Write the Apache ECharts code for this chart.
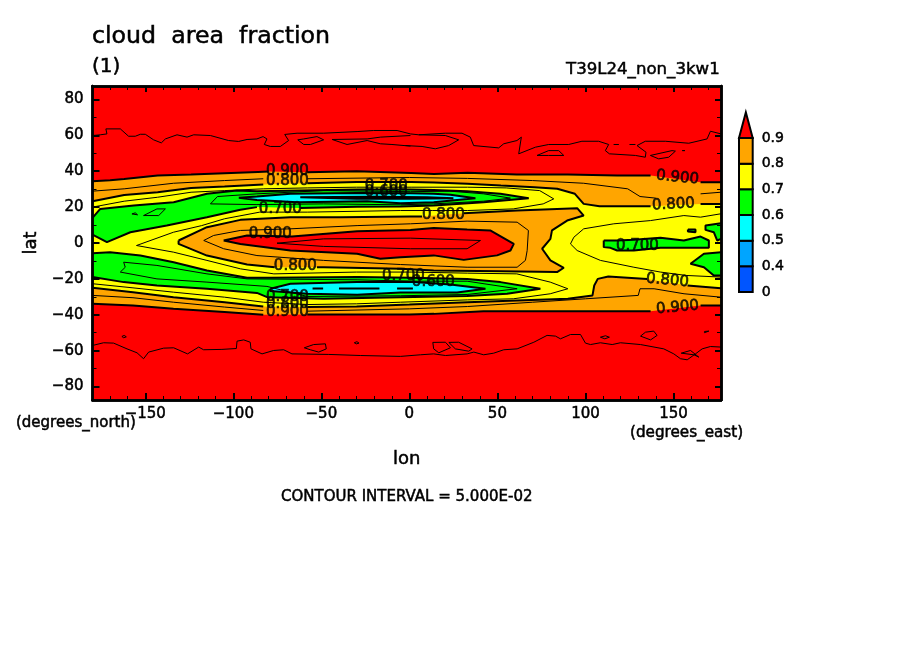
<!DOCTYPE html>
<html><head><meta charset="utf-8">
<style>html,body{margin:0;padding:0;background:#fff}#c{width:904px;height:654px}</style>
<script src="https://cdn.jsdelivr.net/npm/echarts@6/dist/echarts.min.js"></script>
</head><body><div id="c"></div>
<script>
// Plot domain, filled with the top colour band
const plotDomain=[[-180,-87.5],[177,-87.5],[177,87.5],[-180,87.5]];
// Contour lines as [lon, lat]; null = gap under a contour label.
const c90n=[[-180,34.4],[-170,35],[-162,35.7],[-143,37.6],[-124,38.2],[-105,38.9],[-86,39.6],[-80,39.8],null,[-58,39.5],[-30,40],[1,39],[14,38.5],[33,39.1],[61,38.2],[90,38.2],[118,37.6],[137,37.6],null,[165.4,33.9],[177,33.9]];
const c90s=[[-180,-33.9],[-157,-34.8],[-134,-36.7],[-105,-38.5],[-83,-40],null,[-58,-39.8],[-39,-39.8],[0,-39.8],[14,-39.5],[42,-38],[70,-38],[108,-38],[137,-38],null,[165.4,-34.8],[177,-34.8]];
const c85n=[[-180,28.9],[-162,30.2],[-134,33.3],[-105,34.8],[-83,35.8],null,[-58,35.8],[0,36.5],[33,36],[70,34.8],[99,33.3],[124,30.2],[131,25.9],[140,25],null,[165.4,27.4],[177,28.3]];
const c85s=[[-180,-29.2],[-157,-30.5],[-134,-33],[-105,-35.7],[-83,-37.6],null,[-58,-38],[0,-36.7],[33,-35.4],[70,-33],[100,-31.1],[130,-29.2],[131,-25.5],[139,-25.5],[156,-28.3],[177,-30.2]];
const c80n=[[-180,23.3],[-162,26.8],[-143,28.3],[-124,30.7],[-105,31.5],[-83,32.6],null,[-58,33.3],[-30,34],[1,34],[14,33.7],[33,33],[52,32],[71,31.1],[84,30.2],[94,27.4],[99,21.8],[108,20.5],[137,20.5],null,[165.4,21.8],[177,21.8]];
const c80s=[[-180,-25],[-157,-27.4],[-134,-30.2],[-105,-33],[-83,-35.4],null,[-58,-35.7],[-30,-35.4],[0,-34.3],[33,-33],[61,-32],[90,-31.1],[104,-29.2],[105,-23.7],[107,-20],[113,-18.7],[135,-20],null,[158,-23.7],[177,-25.2]];
const c75arc=[[-180,20],[-162,23.3],[-143,25.5],[-124,28.3],[-105,29.2],[-83,30.2],[-58,30.7],[-30,31.1],[1,31.1],[33,31.1],[55,30.7],[74,29.2],[82,24.6],[76,21.8],[59,19],[33,18.1],[13,18.1],[-5,18.1],[-58,17.2],[-85,17.2],[-105,13.5],[-118,9.7],[-134,6],[-155,-1.4],[-134,-5.1],[-115,-9.7],[-96,-14.4],[-77,-17.2],[-30,-16.2],[1,-16.2],[33,-16.8],[61,-17.2],[80,-21.8],[90,-25.5],[80,-28.3],[59,-31.1],[33,-31.7],[-5,-33],[-30,-33.9],[-58,-34.3],[-83,-33],[-105,-30.2],[-134,-27.4],[-157,-25],[-180,-22.7]];
const c75east=[[177,16.3],[165.4,14.4],[155.9,15.3],[137,12.5],[116.1,10.7],[99,7.9],[93.4,3.2],[91.5,-0.5],[95.3,-4.2],[108.5,-9.7],[127.5,-13.5],[142.6,-16.2],[157.4,-18.1],[177,-19]];
const c70n=[[-180,14],[-175.6,19],[-156.6,20.9],[-133.9,22.7],[-115,27.4],[-98,29.2],[-86.6,28.9],[-29.7,29.8],[0.6,29.8],[13.8,29.6],[32.8,28.9],[51.7,27.4],[67.8,25],[42.2,22.7],[13.8,20.9],[-5,20.3],[-29.7,20.2],[-62,19.5],null,[-86.6,20],[-96,18.5],[-115,14.4],[-137.8,9.7],[-158.5,6],[-171.8,0.5],[-180,4.7]];
const c70s=[[-180,-5.7],[-170,-5.1],[-152.8,-7],[-133.9,-10.7],[-115,-15.3],[-92.2,-19.4],[-79,-19.4],[-29.7,-19],[0.6,-19.4],[32.8,-20],[51.7,-21.8],[74.4,-25.5],[55.5,-28.3],[32.8,-29.6],[-5,-30.2],[-48.7,-31.1],[-80.8,-30.2],[-86.6,-27.8],[-115,-25.5],[-143.4,-23.7],[-162.3,-21.8],[-180,-19]];
const c70mid=[[110.4,1.4],[118,1.4],[127.5,1.8],[142.6,2.9],[155.9,1.4],[165.4,3.6],[170.1,1.4],[170.1,-2.7],[155.9,-2.7],[142.6,-2.7],[127.5,-4.2],[118,-4.2],[114.2,-2.7],[110.4,-2.3],[110.4,1.4]];
const c70dot=[[158.2,7.5],[162.5,7.5],[162.5,6],[158.2,6.4],[158.2,7.5]];
const c70ne=[[177,11],[168.2,9.7],[168.2,7.3],[172.9,6],[174.8,1.4],[177,2.3]];
const c70se=[[177,-5.1],[167.3,-6],[159.7,-11.6],[167.3,-13.5],[172.9,-18.1],[177,-18.1]];
const c65n=[[-113,21.8],[-109,25.9],[-86.6,27.4],[-48.7,29.2],[0.6,28.6],[23,28.9],[42.2,27.4],[57.4,25],[42.2,23.3],[13.8,21.8],[-5,21.3],[-48.7,21.8],[-86.6,21.4],[-113,21.8]];
const c65s=[[-164.2,-16.2],[-161.4,-13.5],[-162.3,-10.7],[-143.4,-12.5],[-115,-17.2],[-92.2,-20],[-29.7,-20.5],[0.6,-21.3],[32.8,-21.3],[61.2,-25.5],[32.8,-28.7],[-5,-29.4],[-58,-29.8],[-80.9,-24.2],[-115,-21.8],[-143.4,-20],[-164.2,-16.2]];
const c65dotA=[[-157.6,16.2],[-155.7,16.8],[-154.4,15.7],[-157.6,16.2]];
const c65dotB=[[-151,15.3],[-143.4,19],[-138.6,19],[-142.4,15.3],[-151,15.3]];
const c60n=[[-96.9,25.2],[-86.6,25.9],[-67.6,27.4],[-29.7,27.9],[0.6,27.7],[13.8,27.4],[23.3,26.9],[37.5,25],[13.8,22.7],[-5,22.2],[-24,23.3],[-63.8,22.7],[-86.6,24],[-96.9,25.2]];
const c60s=[[-79,-25.5],[-67.6,-22.7],[-29.7,-21.8],[0.6,-21.6],[23.3,-23.1],[43.2,-25.5],[27.1,-27.6],[-5,-27.6],[-29.7,-28.9],[-58,-28.3],[-79,-26.8],[-79,-25.5]];
const c55n=[[-62,25.5],[-20,25.8],[10,25.5],[25,25],[0,24.7],[-30,24.7],[-62,25.5]];
const c55s=[[-55,-25.3],[-49,-25.3],null,[-40,-25.3],[-17,-25.3],null,[-7,-25.3],[2,-25.3]];
const cCenter80=[[-131.1,1.4],[-115,8.8],[-96,12.9],[-67.6,14.4],[-39,14.4],[0.6,14.8],[7.2,14.8],null,[30.9,16.6],[61.2,18.1],[95.3,19.4],[99,15.3],[89.6,12.5],[81,7],[80.1,2.3],[75.4,-3.2],[80.1,-9.7],[87.7,-13.8],[83.9,-16.2],[51.7,-15.7],[13.8,-15.3],[-5,-14.4],[-48.7,-13.5],[-52.5,-13.5],null,[-76.5,-13.5],[-92.2,-12],[-115,-7],[-131.1,-0.5],[-131.1,1.4]];
const cCenter85=[[-116.8,1.4],[-111.2,4.2],[-96,7],[-67.6,7.9],[-29.7,9.7],[0.6,10.7],[32.8,12.2],[61.2,11.6],[67.6,7],[66.9,-4.2],[65.9,-9.7],[61.2,-13.5],[32.8,-13.5],[-5,-12],[-48.7,-9.7],[-86.6,-7],[-105.5,-3.2],[-116.8,1.4]];
const cCenter90=[[-105.5,1.4],[-92.2,4.2],[-66.7,3.6],[-29.7,6.6],[0.6,7.3],[13.8,8.3],[32.8,7.5],[45.9,7],[59.3,-0.5],[57.4,-4.2],[49.8,-6.9],[30.9,-9.4],[13.8,-6.9],[-5,-7.9],[-16.5,-8.8],[-29.7,-6],[-67.6,-4.2],[-96,-0.5],[-105.5,1.4]];
const cCenter95=[[-75.2,-0.1],[-48.7,2.3],[0.6,2.7],[40.4,1.4],[32.8,-3.2],[0.6,-3.2],[-48.7,-1.9],[-75.2,-0.1]];
// 0.95 contours near 60N and 60S
const polarN=[[-180,59.9],[-175.6,60.3],[-171.8,60.8],[-172.4,63.6],[-164.2,63.6],[-159.5,59.5],[-155.7,59.5],[-152.8,60.6],[-150,60.6],[-145.3,57.5],[-140.9,55.8],[-138.6,58],[-132,60.3],[-126.3,59],[-122.5,60.3],[-113,59.9],[-102.7,57.1],[-97,56.6],[-92.2,57.7],[-86.6,58],[-83.1,59.3],[-80.9,58],[-82.4,54.9],[-79,53.8],[-73.3,53.8],[-68.6,57.1],[-70.8,60.5],[-63.8,61.2],[-48.7,61.2],[-29.7,62.1],[-20.3,62.7],[-7,62.7],[0.6,60.8],[5.3,60.3],[20.4,61.2],[29.9,61.2],[34.6,59],[36.5,54.3],[50.7,53],[53.6,55.3],[61.1,57.1],[63.6,59],[62.1,49.7],[63,48.8],[71.6,53.4],[79.1,54.9],[90.5,54.9],[98,56.7],[107.5,56.7],[113.2,54.9],[111.3,51.5],[113.6,49.7],[128.4,48.8],[134,47.8],[134.4,50.6],[129.3,54.3],[134,56.7],[145.4,56.7],[158.7,55.6],[169.1,58],[171,62.3],[177,60.8]];
const polarNa=[[-2.3,54.3],[7.2,53.8],[14.7,52.5],[22.3,54.3],[28,57.5],[20.4,59.9],[5.3,60.3]];
const polarNb=[[-63.4,57.5],[-60,54.9],[-56.2,54.9],[-48.7,57.5],[-52.5,59.3],[-60,58],[-63.4,57.5]];
const polarNc=[[-43.9,57.7],[-35.4,54.9],[-24,57.1],[-16.5,55.3],[-9.9,54.9],[0.6,54]];
const polarNd=[[-43.9,57.7],[-24,58],[-16.5,59],[0.6,59.9]];
const polarNe=[[72.5,48.8],[79.1,51.5],[84.8,51.5],[87.7,48.8],[79.1,48.8],[72.5,48.8]];
const polarNf=[[136.9,48.8],[149.2,51.5],[151.1,51.2],[147.3,47.8],[141.6,46.9],[136.9,48.8]];
const polarNg=[[116,54.9],[119,54.9],null,[125,54.9],[128.4,54.9]];
const polarNh=[[155,51.5],[156.5,51.5],[156,50.8],[155,51.5]];
const polarS=[[-180,-57.1],[-173.7,-55.6],[-168,-55.8],[-160.4,-59],[-154.7,-61.2],[-151,-64.5],[-148.1,-60.8],[-139.6,-58.6],[-133.9,-58.4],[-126,-61.8],[-119.7,-58],[-116.9,-59.5],[-106.5,-59.3],[-98.3,-58.8],[-97.9,-54.7],[-94.1,-54],[-90.4,-55.3],[-90,-59],[-83.7,-61.8],[-77.1,-59.9],[-71.4,-59.5],[-66.7,-61.8],[-45.8,-62.1],[-27.9,-62.7],[-5.1,-63.2],[6.3,-62.3],[13.8,-61.8],[20.5,-62.7],[32.8,-61.8],[36.6,-60.8],[42.2,-62.3],[47.9,-61.4],[53.6,-59.5],[61.2,-59],[70.7,-55.3],[78.2,-51.5],[83,-51.9],[85.8,-53.4],[91.5,-51],[97.2,-51],[100,-55.8],[102.9,-56.6],[108.5,-55.6],[115.2,-56.6],[119.9,-55.6],[131.3,-56.6],[144.5,-59],[150.2,-61.8],[154,-64.5],[157.8,-65.1],[162.5,-61.8],[166.3,-59],[171,-57.7],[177,-58]];
const polarSa=[[-163.3,-52.1],[-162,-51.5],[-160.8,-52.3],[-162.3,-52.8],[-163.3,-52.1]];
const polarSb=[[-59.7,-58.4],[-54.4,-56.6],[-47.7,-56.2],[-47.2,-59],[-51.5,-60.8],[-56.3,-59.5],[-59.7,-58.4]];
const polarSc=[[-31.3,-55.6],[-29.8,-55],[-28.6,-55.8],[-30.1,-56.2],[-31.3,-55.6]];
const polarSd=[[13.3,-55.4],[20.5,-55.3],[23.3,-58.4],[16.7,-61.2],[13.8,-59],[13.3,-55.4]];
const polarSe=[[22.4,-55.4],[28,-55.3],[35.6,-59],[33.7,-60.3],[26.1,-59],[22.4,-55.4]];
const polarSf=[[108.5,-52.5],[111.4,-51.7],[113.6,-52.5],[111,-53.4],[108.5,-52.5]];
const polarSg=[[131.3,-51.9],[134.1,-49.7],[138.8,-49.1],[140.7,-51.5],[137,-54],[131.3,-51.9]];
const polarSh=[[167.6,-49.3],[170.1,-49.1],[170.1,-49.9],[167.6,-50],[167.6,-49.3]];
const polarSi=[[154.4,-61.4],[159.7,-59.9],[164.4,-63.6],[161.6,-62.3],[154.4,-61.4]];
// Contour labels
const contourLabelText=['0.900','0.800','0.700','0.600','0.700','0.900','0.800','0.800','0.700','0.600','0.700','0.800','0.900','0.900','0.800','0.700','0.800','0.900'];
const contourLabelLon=[-69.3,-69.3,-13.1,-13.1,-73.3,-79,-64.8,19.3,-3.4,13.6,-69.3,-69.3,-69.3,152.3,150,129.5,146.6,152.3];
const contourLabelLat=[39.8,34.3,31.5,28.1,18.7,4.7,-13.1,15.3,-18.7,-22,-30.4,-34.3,-38.7,36.5,21.4,-1.9,-20.9,-35.9];
const contourLabelTilt=[0,0,0,0,0,0,0,0,0,0,0,0,0,-6,3,0,-5,5];
// Axis ticks
const lonMajor=[-150,-100,-50,0,50,100,150];
const lonMinor=[-170,-160,-140,-130,-120,-110,-90,-80,-70,-60,-40,-30,-20,-10,10,20,30,40,60,70,80,90,110,120,130,140,160,170];
const latMajor=[-80,-60,-40,-20,0,20,40,60,80];
const latMinor=[-70,-50,-30,-10,10,30,50,70];
// Colour bar
const levelLabels=['0','0.4','0.5','0.6','0.7','0.8','0.9'];
const levelColors=['#0055ff','#00a5ff','#00ffff','#00ff00','#ffff00','#ffa500','#ff0000'];

const RED='#ff0000',ORANGE='#ffa500',YELLOW='#ffff00',GREEN='#00ff00',CYAN='#00ffff';
const FONT='"DejaVu Sans"';
const solid=a=>a.filter(p=>p);
const band=(a,b)=>solid(a).concat(solid(b).reverse());
const fills=[
  [plotDomain,RED],
  [band(c90n,c90s),ORANGE],
  [band(c80n,c80s),YELLOW],
  [solid(cCenter80),ORANGE],
  [solid(cCenter90),RED],
  [solid(c70n),GREEN],[solid(c70s),GREEN],[solid(c70mid),GREEN],[solid(c70dot),GREEN],
  [solid(c70ne),GREEN],[solid(c70se),GREEN],
  [solid(c60n),CYAN],[solid(c60s),CYAN]
];
const joinLines=list=>{const out=[];list.forEach(a=>{a.forEach(p=>out.push(p?p:['-','-']));out.push(['-','-']);});return out;};
const thick=joinLines([c90n,c90s,c80n,c80s,c70n,c70s,c70mid,c70dot,c70ne,c70se,c60n,c60s,c55n,c55s,cCenter80,cCenter90]);
const thin=joinLines([c85n,c85s,c75arc,c75east,c65n,c65s,c65dotA,c65dotB,cCenter85,cCenter95,polarN,polarNa,polarNb,polarNc,polarNd,polarNe,polarNf,polarNg,polarNh,polarS,polarSa,polarSb,polarSc,polarSd,polarSe,polarSf,polarSg,polarSh,polarSi]);

const rect={left:92.5,right:904-721,top:86,bottom:654-400};
const INK={textBorderColor:'#000',textBorderWidth:0.5};
const lon=(position,gridIndex,ticks,len,width,labels)=>({type:'value',gridIndex,position,min:-180,max:177,z:10,
  splitLine:{show:false},axisLine:{show:true,onZero:false,lineStyle:{color:'#000',width:2.5}},
  axisTick:{show:true,inside:true,length:len,customValues:ticks,lineStyle:{color:'#000',width}},
  axisLabel:labels?Object.assign({show:true,customValues:ticks,margin:7,color:'#000',fontFamily:FONT,fontSize:15,formatter:v=>String(v).replace('-','\u2212')},INK):{show:false}});
const lat=(position,gridIndex,ticks,len,width,labels)=>({type:'value',gridIndex,position,min:-87.5,max:87.5,z:10,
  splitLine:{show:false},axisLine:{show:true,onZero:false,lineStyle:{color:'#000',width:2.5}},
  axisTick:{show:true,inside:true,length:len,customValues:ticks,lineStyle:{color:'#000',width}},
  axisLabel:labels?Object.assign({show:true,customValues:ticks,margin:9,color:'#000',fontFamily:FONT,fontSize:15,formatter:v=>String(v).replace('-','\u2212')},INK):{show:false}});

const xLon0=lon('bottom',0,lonMajor,7,2,true);
Object.assign(xLon0,{name:'lon',nameLocation:'middle',nameGap:50,nameTextStyle:Object.assign({color:'#000',fontFamily:FONT,fontSize:18},INK)});
const yLat0=lat('left',0,latMajor,7,2,true);
Object.assign(yLat0,{name:'lat',nameLocation:'middle',nameGap:43,nameRotate:90,nameTextStyle:Object.assign({color:'#000',fontFamily:FONT,fontSize:18},INK)});

const text=(x,y,s,size)=>({type:'text',x,y,silent:true,style:{text:s,fill:'#000',stroke:'#000',lineWidth:0.5,font:size+'px '+FONT,textVerticalAlign:'middle'}});

const option={
  animation:false,
  backgroundColor:'#fff',
  grid:[Object.assign({},rect),Object.assign({},rect),{left:739,width:13.7,top:138,height:154}],
  xAxis:[xLon0,lon('top',0,lonMajor,6,2,false),lon('bottom',1,lonMinor,4,1,false),lon('top',1,lonMinor,4,1,false),
    {type:'value',gridIndex:2,min:0,max:1,show:false}],
  yAxis:[yLat0,lat('right',0,latMajor,6,2,false),lat('left',1,latMinor,4,1,false),lat('right',1,latMinor,4,1,false),
    {type:'value',gridIndex:2,min:0,max:6,interval:1,position:'right',splitLine:{show:false},axisLine:{show:false},axisTick:{show:false},
     axisLabel:Object.assign({margin:9,color:'#000',fontFamily:FONT,fontSize:14,formatter:v=>levelLabels[v]},INK)}],
  graphic:[
    text(92,37,'cloud  area  fraction',23.7),
    text(92,67,'(1)',20),
    text(566,70,'T39L24_non_3kw1',16.6),
    text(16,423,'(degrees_north)',15),
    text(630,433,'(degrees_east)',15.2),
    text(281,497,'CONTOUR INTERVAL = 5.000E-02',15)
  ],
  series:[
    {type:'custom',name:'fills',xAxisIndex:0,yAxisIndex:0,z:2,silent:true,clip:true,
     data:fills.map((f,i)=>[0,0,i]),
     renderItem:(p,api)=>{const f=fills[p.dataIndex];
       return {type:'polygon',shape:{points:f[0].map(q=>api.coord(q))},style:{fill:f[1],stroke:null}};}},
    {type:'line',name:'thin contours',xAxisIndex:0,yAxisIndex:0,z:3,silent:true,showSymbol:false,symbol:'none',
     data:thin,lineStyle:{color:'#000',width:1},connectNulls:false},
    {type:'line',name:'thick contours',xAxisIndex:0,yAxisIndex:0,z:3,silent:true,showSymbol:false,symbol:'none',
     data:thick,lineStyle:{color:'#000',width:2},connectNulls:false},
    {type:'scatter',name:'contour labels',xAxisIndex:0,yAxisIndex:0,z:4,silent:true,symbolSize:1,itemStyle:{color:'rgba(0,0,0,0)'},
     data:contourLabelText.map((t,i)=>({value:[contourLabelLon[i],contourLabelLat[i]],
       label:{show:true,position:'inside',formatter:t,rotate:contourLabelTilt[i],color:'#000',fontFamily:FONT,fontSize:15,textBorderColor:'#000',textBorderWidth:0.7}}))},
    {type:'custom',name:'colour bar',xAxisIndex:4,yAxisIndex:4,z:3,silent:true,
     data:levelColors.map((c,i)=>[0,i,i+1]),
     renderItem:(p,api)=>{const i=p.dataIndex,lo=api.value(1),hi=api.value(2);
       const pts=i===levelColors.length-1
         ?[[0,lo],[0.5,hi],[1,lo]]
         :[[0,lo],[0,hi],[1,hi],[1,lo]];
       return {type:'polygon',shape:{points:pts.map(q=>api.coord(q))},style:{fill:levelColors[i],stroke:'#000',lineWidth:2}};}}
  ]
};
echarts.init(document.getElementById('c'),null,{renderer:'canvas'}).setOption(option);
</script></body></html>
